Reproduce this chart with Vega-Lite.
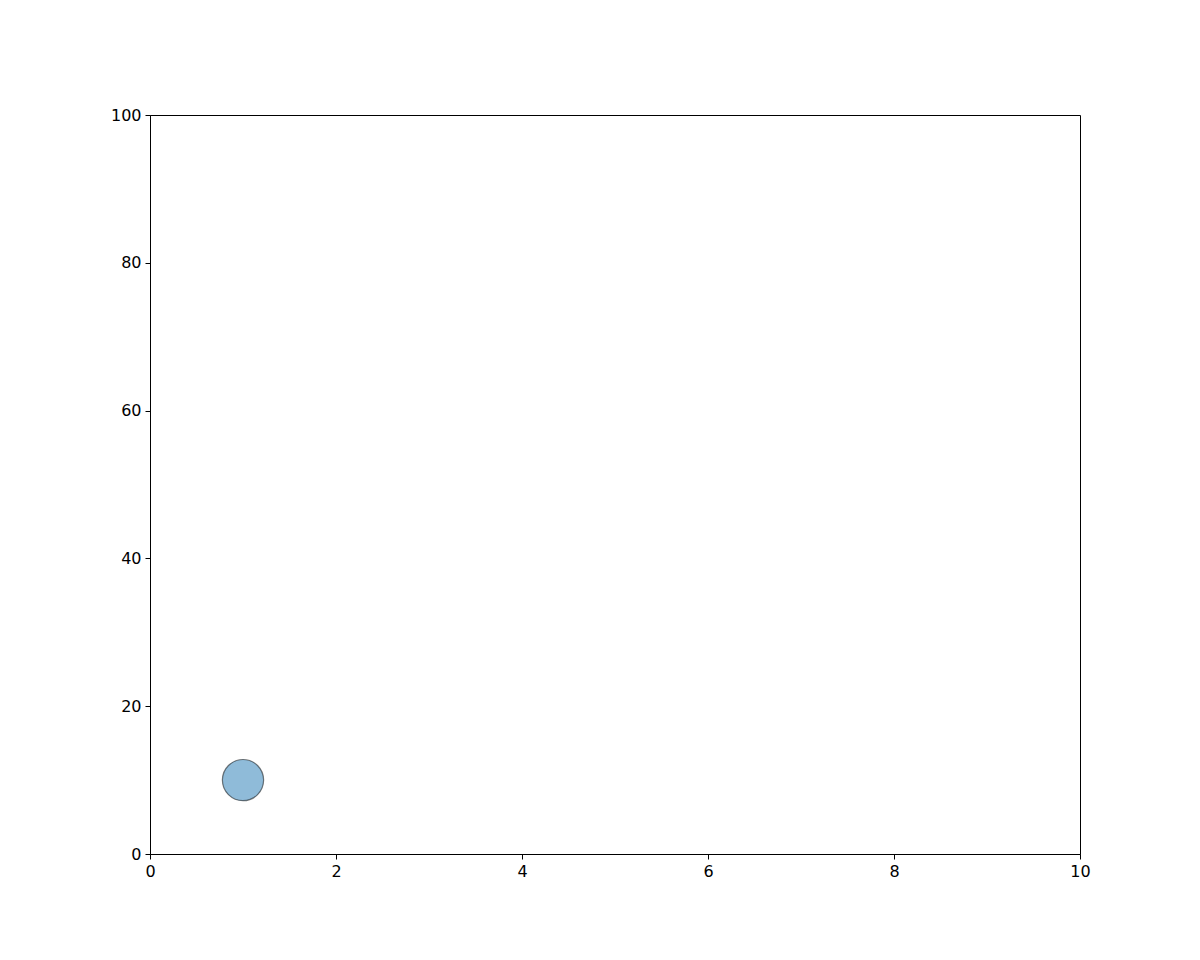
{
  "$schema": "https://vega.github.io/schema/vega-lite/v6.json",
  "width": 930,
  "height": 739,
  "autosize": "none",
  "padding": {"left": 150, "top": 115, "right": 120, "bottom": 106},
  "background": "white",
  "config": {
    "view": {"stroke": "black", "strokeWidth": 1},
    "axis": {
      "domainColor": "black",
      "tickColor": "black",
      "tickSize": 5,
      "labelColor": "black",
      "labelFont": "DejaVu Sans",
      "labelFontSize": 16,
      "labelFlush": false,
      "labelOverlap": false,
      "grid": false,
      "title": null
    }
  },
  "data": {"values": [{"x": 1, "y": 10}]},
  "mark": {
    "type": "point",
    "shape": "circle",
    "filled": true,
    "fill": "#1f77b4",
    "fillOpacity": 0.5,
    "stroke": "black",
    "strokeOpacity": 0.5,
    "strokeWidth": 1.2,
    "size": 1700
  },
  "encoding": {
    "x": {
      "field": "x",
      "type": "quantitative",
      "scale": {"domain": [0, 10], "nice": false, "zero": false},
      "axis": {"values": [0, 2, 4, 6, 8, 10], "labelPadding": 4}
    },
    "y": {
      "field": "y",
      "type": "quantitative",
      "scale": {"domain": [0, 100], "nice": false, "zero": false},
      "axis": {"values": [0, 20, 40, 60, 80, 100], "labelPadding": 4}
    }
  }
}
